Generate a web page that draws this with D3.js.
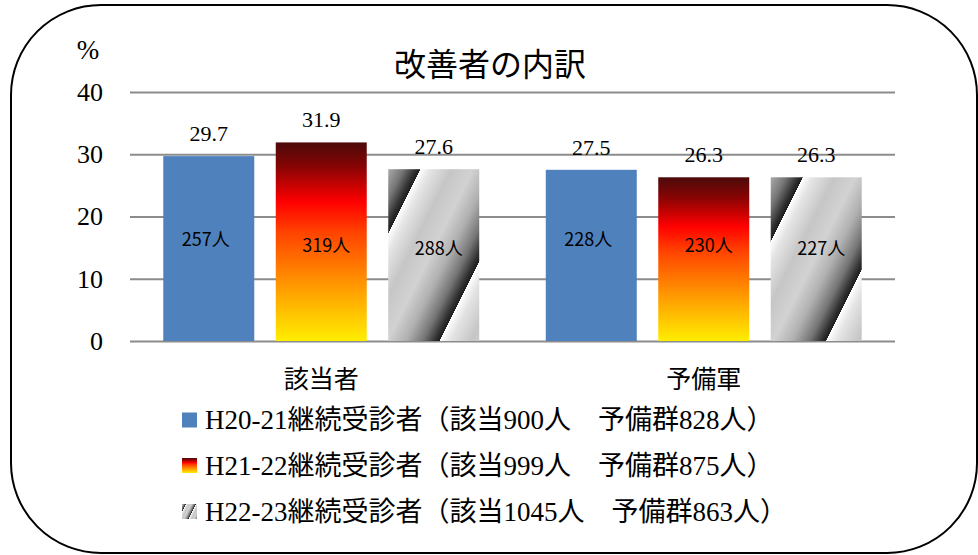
<!DOCTYPE html>
<html>
<head>
<meta charset="utf-8">
<script src="https://cdn.jsdelivr.net/npm/d3@7"></script>
<style>
  html, body { margin: 0; padding: 0; background: #fff; }
  svg { display: block; }
</style>
</head>
<body>
<svg id="chart" width="978" height="555"></svg>
<script>
// ---- data ----
const categories = ["該当者", "予備軍"];
const seriesKeys = ["h2021", "h2122", "h2223"];
const seriesLabels = [
  "H20-21継続受診者（該当900人　予備群828人）",
  "H21-22継続受診者（該当999人　予備群875人）",
  "H22-23継続受診者（該当1045人　予備群863人）"
];
const percentH2021 = [29.7, 27.5];
const percentH2122 = [31.9, 26.3];
const percentH2223 = [27.6, 26.3];
const countH2021 = [257, 228];
const countH2122 = [319, 230];
const countH2223 = [288, 227];
const yTicks = [0, 10, 20, 30, 40];
const chartTitle = "改善者の内訳";
const unitLabel = "%";

const percents = [percentH2021, percentH2122, percentH2223];
const counts = [countH2021, countH2122, countH2223];

// ---- layout ----
const W = 978, H = 555;
const plot = { left: 130, right: 895, top: 92, bottom: 341 };
const serifFont = "'Liberation Serif', 'Noto Sans CJK JP', serif";
const sansFont = "'Noto Sans CJK JP', 'Noto Sans', sans-serif";
const gridColor = "#8c8c8c";

const svg = d3.select("#chart");
svg.append("rect").attr("width", W).attr("height", H).attr("fill", "#fff");

const defs = svg.append("defs");

// flame gradient: dark maroon -> red -> orange -> yellow
const fire = defs.append("linearGradient")
  .attr("id", "fire").attr("x1", 0).attr("y1", 0).attr("x2", 0).attr("y2", 1);
[[0, "#4c0a0a"], [0.12, "#860404"], [0.3, "#ff0000"], [0.45, "#ff4200"],
 [0.72, "#ff9800"], [1, "#ffee00"]].forEach(([o, c]) =>
  fire.append("stop").attr("offset", o).attr("stop-color", c));

// repeating diagonal metallic stripe gradient (anchored at each bar's top-left)
const chromeStops = [[0, "#ffffff"], [0.1, "#e4e4e4"], [0.3, "#c6c6c6"],
  [0.5, "#d2d2d2"], [0.68, "#b0b0b0"], [0.84, "#767676"], [0.96, "#2e2e2e"], [1, "#1e1e1e"]];
function chromeGradient(id, ox, period) {
  const dx = period * 2 / Math.sqrt(5), dy = period / Math.sqrt(5);
  const g = defs.append("linearGradient").attr("id", id)
    .attr("gradientUnits", "userSpaceOnUse").attr("spreadMethod", "repeat")
    .attr("x1", ox).attr("y1", 0).attr("x2", ox + dx).attr("y2", dy);
  chromeStops.forEach(([o, c]) => g.append("stop").attr("offset", o).attr("stop-color", c));
}
chromeGradient("chrome", 32, 94);
chromeGradient("chromeSmall", 4, 9);

const fills = ["#4f81bd", "url(#fire)", "url(#chrome)"];
const legendFills = ["#4f81bd", "url(#fire)", "url(#chromeSmall)"];

// ---- frame ----
svg.append("rect")
  .attr("x", 11).attr("y", 5).attr("width", 966).attr("height", 548)
  .attr("rx", 90).attr("ry", 90)
  .attr("fill", "none").attr("stroke", "#000").attr("stroke-width", 2);

// ---- scales ----
const x0 = d3.scaleBand().domain(categories)
  .range([plot.left, plot.right]).paddingInner(0.174).paddingOuter(0.087);
const x1 = d3.scaleBand().domain(seriesKeys)
  .range([0, x0.bandwidth()]).paddingInner(0.191);
const y = d3.scaleLinear().domain([0, 40]).range([plot.bottom, plot.top]);

// ---- gridlines + y axis ----
const yAxis = d3.axisLeft(y).tickValues(yTicks)
  .tickSize(-(plot.right - plot.left)).tickPadding(27).tickFormat(d3.format("d"));
const ga = svg.append("g").attr("transform", `translate(${plot.left},0)`).call(yAxis);
ga.select(".domain").remove();
ga.selectAll(".tick line").attr("stroke", gridColor).attr("stroke-width", 2);
ga.selectAll(".tick text")
  .attr("font-family", serifFont).attr("font-size", 26).attr("fill", "#000");

svg.append("text").text(unitLabel)
  .attr("x", 88).attr("y", 59).attr("text-anchor", "middle")
  .attr("font-family", serifFont).attr("font-size", 27).attr("fill", "#000");

// ---- title ----
svg.append("text").text(chartTitle)
  .attr("x", 490).attr("y", 62).attr("text-anchor", "middle")
  .attr("dominant-baseline", "central")
  .attr("font-family", sansFont).attr("font-size", 32).attr("fill", "#000");

// ---- bars ----
const innerLabelValue = [16.5, 15.6, 15.1];   // height (in axis units) of the count labels
const innerLabelShift = [-3, 5, 5];

const rows = [];
categories.forEach((cat, ci) => {
  seriesKeys.forEach((key, si) => {
    rows.push({ cat, ci, key, si, value: percents[si][ci], count: counts[si][ci] });
  });
});

const bars = svg.append("g").selectAll("g.bar").data(rows).join("g")
  .attr("class", "bar")
  .attr("transform", d => `translate(${x0(d.cat) + x1(d.key)},${y(d.value)})`);

bars.append("rect")
  .attr("x", 0).attr("y", 0)
  .attr("width", x1.bandwidth())
  .attr("height", d => y(0) - y(d.value))
  .attr("fill", d => fills[d.si]);

// value labels above bars
svg.append("g").selectAll("text").data(rows).join("text")
  .attr("x", d => x0(d.cat) + x1(d.key) + x1.bandwidth() / 2)
  .attr("y", d => y(d.value) - 15)
  .attr("text-anchor", "middle")
  .attr("font-family", serifFont).attr("font-size", 22).attr("fill", "#000")
  .text(d => d.value.toFixed(1));

// count labels inside bars
svg.append("g").selectAll("text").data(rows).join("text")
  .attr("x", d => x0(d.cat) + x1(d.key) + x1.bandwidth() / 2 + innerLabelShift[d.si])
  .attr("y", d => y(innerLabelValue[d.si]))
  .attr("text-anchor", "middle").attr("dominant-baseline", "central")
  .attr("font-family", sansFont).attr("font-size", 18).attr("fill", "#000")
  .text(d => d.count + "人");

// ---- category labels ----
svg.append("g").selectAll("text").data(categories).join("text")
  .attr("x", d => x0(d) + x0.bandwidth() / 2)
  .attr("y", 377)
  .attr("text-anchor", "middle").attr("dominant-baseline", "central")
  .attr("font-family", sansFont).attr("font-size", 25).attr("fill", "#000")
  .text(d => d);

// ---- legend ----
const legendRowY = [420, 465.5, 511.5];
const lg = svg.append("g").selectAll("g").data(seriesLabels).join("g")
  .attr("transform", (d, i) => `translate(182,${legendRowY[i]})`);
lg.append("g").attr("transform", "translate(0,-7.5)")
  .append("rect").attr("width", 15).attr("height", 15)
  .attr("fill", (d, i) => legendFills[i]);
lg.append("text")
  .attr("x", 23).attr("y", 0)
  .attr("dominant-baseline", "central")
  .attr("font-family", serifFont).attr("font-size", 27).attr("fill", "#000")
  .text(d => d);
</script>
</body>
</html>
